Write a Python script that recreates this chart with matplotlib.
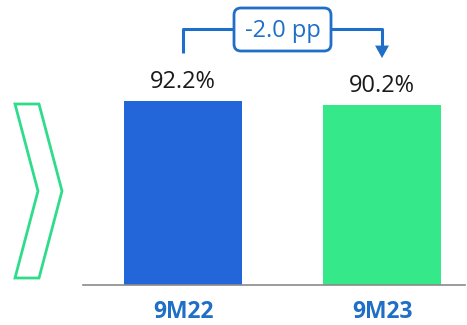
import matplotlib
matplotlib.use("Agg")
import matplotlib.pyplot as plt
from matplotlib.patches import Polygon, FancyBboxPatch
import matplotlib.transforms as mtransforms

categories = ["9M22", "9M23"]
values = [92.2, 90.2]
value_labels = ["92.2%", "90.2%"]
delta_label = "-2.0 pp"

bar_colors = ["#2266d9", "#35e88a"]
label_blue = "#1f6fc8"
chev_green = "#2fdc8c"

W, H = 467, 325
fig = plt.figure(figsize=(W / 100, H / 100), dpi=100)
plt.rcParams['font.family'] = ['Open Sans', 'DejaVu Sans']

# pixel transform (origin top-left)
px = mtransforms.Affine2D().scale(1 / W, -1 / H).translate(0, 1) + fig.transFigure

ax = fig.add_axes([83 / W, (H - 285) / H, 382 / W, 285 / H])
xs = list(range(len(categories)))
ax.bar(xs, values, width=0.593, color=bar_colors)
ax.set_xlim(-0.5025, 1.417)
ax.set_ylim(0, 142.8)
for s in ["top", "right", "left"]:
    ax.spines[s].set_visible(False)
ax.spines["bottom"].set_color("#8a8a8a")
ax.spines["bottom"].set_linewidth(1.2)
ax.set_xticks([])
ax.set_yticks([])
ax.patch.set_alpha(0)

for x, v, lab in zip(xs, values, value_labels):
    ax.annotate(lab, (x, v), xytext=(0, 9.5), textcoords="offset points",
                ha="center", va="baseline", fontsize=17, color="#1a1a1a")

for x, c in zip(xs, categories):
    ax.annotate(c, (x, 0), xytext=(0, -23.8), textcoords="offset points",
                ha="center", va="baseline", fontsize=16.5, fontweight="bold",
                color=label_blue)

# bracket
y_top, y_low, y_tip = 128.3, 116.2, 113.7
ax.plot([xs[0], xs[0], xs[1], xs[1]], [y_low, y_top, y_top, y_tip + 6],
        color=label_blue, lw=2.2, clip_on=False, solid_capstyle="butt")
ax.annotate("", xy=(xs[1], y_tip), xytext=(xs[1], y_tip + 8),
            arrowprops=dict(arrowstyle="-|>,head_length=0.9,head_width=0.5",
                            color=label_blue, lw=0, shrinkA=0, shrinkB=0),
            annotation_clip=False)

box = FancyBboxPatch((234, 8), 97, 43, boxstyle="round,pad=0,rounding_size=7",
                     transform=px, facecolor="white", edgecolor=label_blue,
                     lw=2.0, zorder=5)
fig.patches.append(box)
fig.text(282.5 / W, 1 - 31 / H, delta_label, ha="center", va="center",
         fontsize=17, color=label_blue, zorder=6)

# chevron
chev = Polygon([(15, 104), (39, 104), (62, 191), (39, 278), (15, 278), (38, 191)],
               closed=True, fill=False, edgecolor=chev_green, lw=2.0,
               transform=px)
fig.patches.append(chev)

fig.savefig("out.png", dpi=100)
